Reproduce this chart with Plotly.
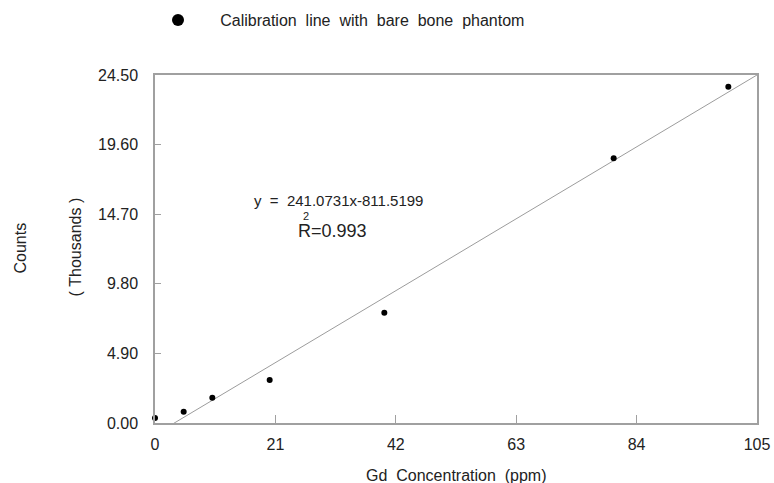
import plotly.graph_objects as go

# Data
gd_ppm = [0, 5, 10, 20, 40, 80, 100]
counts_thousands = [0.35, 0.80, 1.78, 3.03, 7.77, 18.64, 23.68]
slope = 241.0731      # counts per ppm
intercept = -811.5199 # counts
x_ticks = [0, 21, 42, 63, 84, 105]
y_ticks = [0.0, 4.9, 9.8, 14.7, 19.6, 24.5]
y_tick_labels = ["0.00", "4.90", "9.80", "14.70", "19.60", "24.50"]
series_name = "Calibration line with bare bone phantom"

FONT = "Liberation Sans, Arial, sans-serif"
AXC = "#a0a0a0"
TXT = "#222222"
NB = "\u00a0"


def spaced(text, n):
    return (NB * n).join(text.split(" "))


fit_x = [x_ticks[0], x_ticks[-1]]
fit_y = [(slope * v + intercept) / 1000.0 for v in fit_x]

fig = go.Figure()
fig.add_trace(go.Scatter(x=fit_x, y=fit_y, mode="lines",
                         line=dict(color="#9c9c9c", width=1),
                         showlegend=False, hoverinfo="skip"))
fig.add_trace(go.Scatter(x=gd_ppm, y=counts_thousands, mode="markers",
                         name=NB * 5 + spaced(series_name, 2),
                         marker=dict(color="black", size=6),
                         cliponaxis=False))

fig.update_layout(
    width=774, height=483,
    margin=dict(l=155, r=17, t=75, b=60, autoexpand=False),
    paper_bgcolor="white", plot_bgcolor="white",
    font=dict(family=FONT, color=TXT, size=16),
    showlegend=True,
    legend=dict(x=0.005, y=1.158, xanchor="left", yanchor="middle",
                font=dict(size=16, color=TXT), bgcolor="rgba(0,0,0,0)",
                itemsizing="constant"),
    xaxis=dict(range=[0, 105], tickvals=x_ticks, ticktext=[str(v) for v in x_ticks],
               showgrid=False, zeroline=False, showline=True, linecolor=AXC, linewidth=1.5,
               mirror=True, ticks="inside", ticklen=8, tickcolor=AXC, tickwidth=1,
               tickfont=dict(size=16, color=TXT), ticklabelstandoff=6, automargin=False),
    yaxis=dict(range=[0, 24.5], tickvals=y_ticks, ticktext=y_tick_labels,
               showgrid=False, zeroline=False, showline=True, linecolor=AXC, linewidth=1.5,
               mirror=True, ticks="inside", ticklen=6, tickcolor=AXC, tickwidth=1,
               tickfont=dict(size=16, color=TXT), ticklabelstandoff=12, automargin=False),
    annotations=[
        dict(text=spaced("Gd Concentration (ppm)", 2), x=(456 - 155) / 602, y=(423 - 475) / 348,
             xref="paper", yref="paper", showarrow=False, font=dict(size=16, color=TXT),
             xanchor="center", yanchor="middle"),
        dict(text="Counts", x=(19.5 - 155) / 602, y=(423 - 248) / 348,
             xref="paper", yref="paper", textangle=-90,
             showarrow=False, font=dict(size=16, color=TXT), xanchor="center", yanchor="middle"),
        dict(text="(" + NB + "Thousands" + NB + ")", x=(75 - 155) / 602, y=(423 - 247.5) / 348,
             xref="paper", yref="paper", textangle=-90,
             showarrow=False, font=dict(size=16, color=TXT), xanchor="center", yanchor="middle"),
        dict(text="y" + NB * 2 + "=" + NB * 2 + "241.0731x-811.5199",
             x=(253 - 155) / 602, y=(423 - 200) / 348, xref="paper", yref="paper",
             showarrow=False, font=dict(size=15, color=TXT), xanchor="left", yanchor="middle",
             borderpad=0),
        dict(text="R=0.993", x=(297 - 155) / 602, y=(423 - 231) / 348,
             xref="paper", yref="paper", borderpad=0,
             showarrow=False, font=dict(size=18, color=TXT), xanchor="left", yanchor="middle"),
        dict(text="2", x=(306 - 155) / 602, y=(423 - 216) / 348, xref="paper", yref="paper",
             showarrow=False, font=dict(size=11, color=TXT), xanchor="center", yanchor="middle",
             borderpad=0),
    ],
)

fig.write_html("out.html")
